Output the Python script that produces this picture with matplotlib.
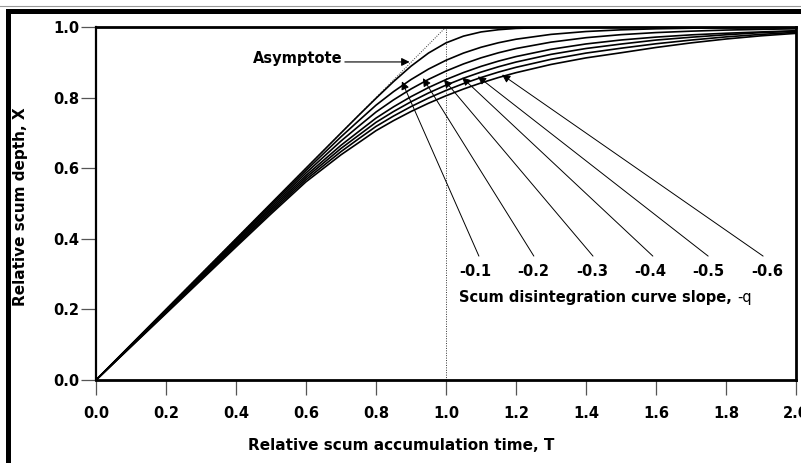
import matplotlib
matplotlib.use("Agg")
import matplotlib.pyplot as plt
from matplotlib.lines import Line2D

plt.rcParams["font.family"] = ["DejaVu Sans"]

# relative accumulation time, T
T = [0.0, 0.1, 0.2, 0.3, 0.4, 0.5, 0.6, 0.7, 0.75, 0.8, 0.85, 0.9, 0.95, 1.0,
     1.05, 1.1, 1.15, 1.2, 1.3, 1.4, 1.5, 1.6, 1.7, 1.8, 1.9, 2.0]

# relative scum depth, X (top curve first, then q = 0.1 ... 0.6)
curve_top = [0.0, 0.1, 0.2, 0.3, 0.4, 0.5, 0.6, 0.6998, 0.7493, 0.798, 0.8453, 0.889, 0.9262, 0.955,
             0.9742, 0.986, 0.9923, 0.996, 0.999, 1.0, 1.0, 1.0, 1.0, 1.0, 1.0, 1.0]
curve_q01 = [0.0, 0.0993, 0.1985, 0.2978, 0.397, 0.4955, 0.5935, 0.689, 0.734, 0.7785, 0.8169, 0.8511, 0.8808, 0.9057,
             0.9262, 0.9426, 0.9554, 0.9654, 0.9791, 0.9872, 0.9920, 0.9949, 0.9966, 0.9978, 0.9985, 0.9989]
curve_q02 = [0.0, 0.0983, 0.1965, 0.2948, 0.393, 0.4905, 0.5865, 0.677, 0.7185, 0.7591, 0.7935, 0.8244, 0.8516, 0.8752,
             0.8954, 0.9126, 0.9270, 0.9390, 0.9571, 0.9697, 0.9783, 0.9842, 0.9882, 0.9913, 0.9933, 0.9949]
curve_q03 = [0.0, 0.0973, 0.1945, 0.2918, 0.389, 0.4855, 0.5795, 0.665, 0.7035, 0.7419, 0.7738, 0.8027, 0.8284, 0.8511,
             0.8710, 0.8884, 0.9034, 0.9162, 0.9369, 0.9520, 0.9632, 0.9714, 0.9777, 0.9823, 0.9860, 0.9895]
curve_q04 = [0.0, 0.0963, 0.1925, 0.2888, 0.385, 0.4805, 0.5735, 0.656, 0.693, 0.7299, 0.7605, 0.7882, 0.8131, 0.8353,
             0.8549, 0.8722, 0.8874, 0.9007, 0.9225, 0.9391, 0.9517, 0.9630, 0.9710, 0.9780, 0.9840, 0.9880]
curve_q05 = [0.0, 0.0953, 0.1905, 0.2858, 0.381, 0.4755, 0.5675, 0.647, 0.683, 0.7183, 0.7477, 0.7745, 0.7987, 0.8203,
             0.8397, 0.8569, 0.8723, 0.8858, 0.9084, 0.9261, 0.9399, 0.9525, 0.9630, 0.9720, 0.9790, 0.9850]
curve_q06 = [0.0, 0.0943, 0.1885, 0.2828, 0.377, 0.4705, 0.5615, 0.638, 0.672, 0.7063, 0.7347, 0.7606, 0.7840, 0.8052,
             0.8243, 0.8415, 0.8569, 0.8706, 0.8939, 0.9125, 0.9270, 0.9420, 0.9550, 0.9660, 0.9750, 0.9820]

slope_labels = ["-0.1", "-0.2", "-0.3", "-0.4", "-0.5", "-0.6"]

x_ticks = [0.0, 0.2, 0.4, 0.6, 0.8, 1.0, 1.2, 1.4, 1.6, 1.8, 2.0]
y_ticks = [0.0, 0.2, 0.4, 0.6, 0.8, 1.0]

W, H = 801, 463
FS = 10.5
fig = plt.figure(figsize=(W / 100, H / 100), dpi=100)
ax = fig.add_axes([96 / W, 1 - 380 / H, 700 / W, 353 / H])

# asymptote and T = 1 guide
ax.plot([0, 1], [0, 1], ls=(0, (1, 1.5)), lw=0.7, color="#333333")
ax.plot([1, 1], [0, 1], ls=(0, (1, 1.5)), lw=0.7, color="#333333")

for ys in [curve_top, curve_q01, curve_q02, curve_q03, curve_q04, curve_q05, curve_q06]:
    ax.plot(T, ys, color="black", lw=1.2, solid_joinstyle="round")

ax.set_xlim(0, 2)
ax.set_ylim(0, 1)
ax.set_xticks(x_ticks)
ax.set_xticklabels([f"{v:.1f}" for v in x_ticks])
ax.set_yticks(y_ticks)
ax.set_yticklabels([f"{v:.1f}" for v in y_ticks])
ax.tick_params(axis="x", direction="out", length=11, width=0.9, color="#555555",
               pad=8, labelsize=FS)
ax.tick_params(axis="y", direction="out", length=10.5, width=0.9, color="#555555",
               pad=1.5, labelsize=FS)
for lab in ax.get_xticklabels() + ax.get_yticklabels():
    lab.set_fontweight("bold")
for side in ["left", "bottom", "top", "right"]:
    ax.spines[side].set_linewidth(2.0)
ax.spines["left"].set_linewidth(1.6)

# asymptote label
ax.text(0.703, 0.898, "Asymptote", ha="right", va="baseline",
        fontsize=FS, fontweight="bold")
ax.annotate("", xy=(0.896, 0.901), xytext=(0.711, 0.901),
            arrowprops=dict(arrowstyle="-|>", color="black", lw=0.8,
                            shrinkA=0, shrinkB=0, mutation_scale=12))

# slope labels with arrows to the curves
label_x = [1.083, 1.249, 1.417, 1.583, 1.749, 1.917]
tail_x = [1.094, 1.251, 1.420, 1.591, 1.749, 1.906]
tips = [(0.874, 0.846), (0.934, 0.855), (0.994, 0.851),
        (1.046, 0.857), (1.091, 0.860), (1.160, 0.865)]
for lab, lx, tx, tip in zip(slope_labels, label_x, tail_x, tips):
    ax.text(lx, 0.306, lab, ha="center", va="center", fontsize=FS, fontweight="bold")
    ax.annotate("", xy=tip, xytext=(tx, 0.351),
                arrowprops=dict(arrowstyle="-|>", color="black", lw=0.7,
                                shrinkA=0, shrinkB=0, mutation_scale=12))

cap = ax.text(1.037, 0.235, "Scum disintegration curve slope, ", ha="left", va="center",
              fontsize=FS, fontweight="bold")
ax.annotate("-q", xy=(1, 0), xycoords=cap, ha="left", va="bottom", fontsize=FS)

# axis titles
fig.text(401 / W, 1 - 445 / H, "Relative scum accumulation time, T", ha="center",
         va="center", fontsize=11, fontweight="bold")
fig.text(21 / W, 1 - 207 / H, "Relative scum depth, X", ha="center", va="center",
         rotation=90, fontsize=11, fontweight="bold")

# frame around the figure
fig.add_artist(Line2D([0, 1], [1 - 6 / H, 1 - 6 / H], transform=fig.transFigure,
                      color="#999999", lw=0.8))
fig.add_artist(Line2D([7.5 / W, 7.5 / W, 1.0], [0.0, 1 - 10.5 / H, 1 - 10.5 / H],
                      transform=fig.transFigure, color="black", lw=3.6,
                      solid_joinstyle="miter"))

fig.savefig("out.png", dpi=100)
